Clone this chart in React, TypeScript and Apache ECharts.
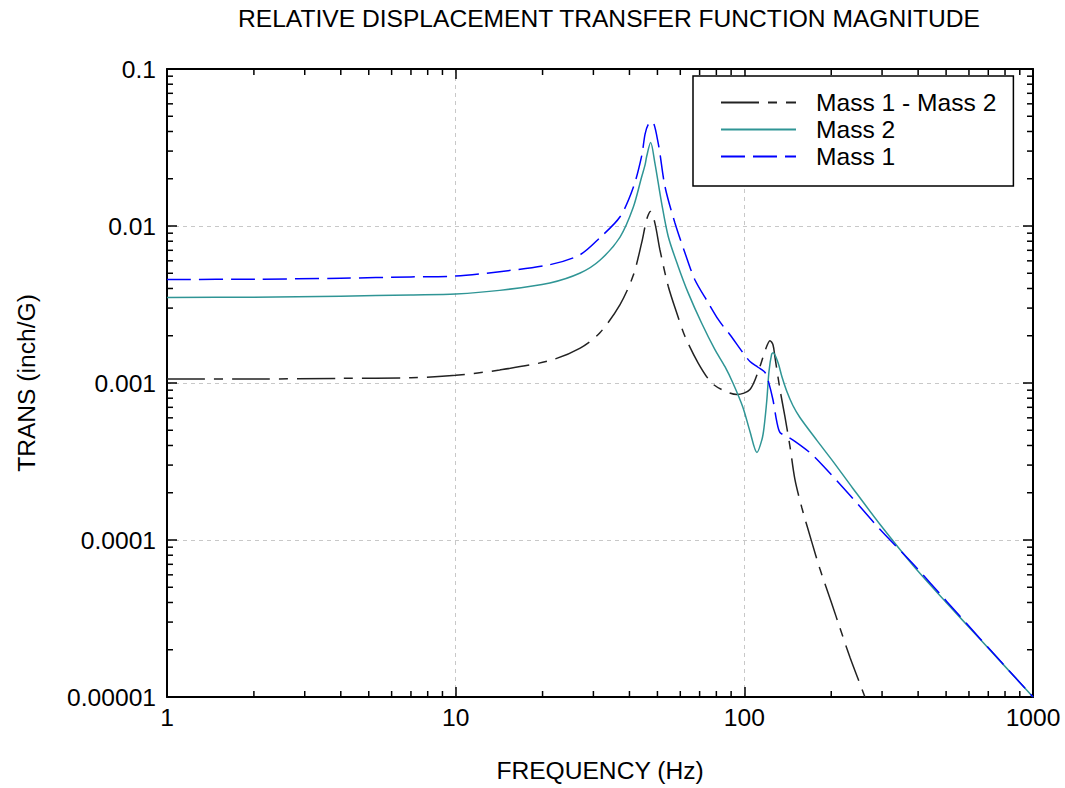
import React, { useEffect, useRef } from "react";
import * as echarts from "echarts";

const TITLE = "RELATIVE DISPLACEMENT TRANSFER FUNCTION MAGNITUDE";
const X_NAME = "FREQUENCY (Hz)";
const Y_NAME = "TRANS (inch/G)";
const xTickLabels = ["1", "10", "100", "1000"];
const yTickLabels = ["0.00001", "0.0001", "0.001", "0.01", "0.1"];
const xMinorTicks = [2, 3, 4, 5, 6, 7, 8, 9, 20, 30, 40, 50, 60, 70, 80, 90, 200, 300, 400, 500, 600, 700, 800, 900];
const yMinorTicks = [
  0.00002, 0.00003, 0.00004, 0.00005, 0.00006, 0.00007, 0.00008, 0.00009,
  0.0002, 0.0003, 0.0004, 0.0005, 0.0006, 0.0007, 0.0008, 0.0009,
  0.002, 0.003, 0.004, 0.005, 0.006, 0.007, 0.008, 0.009,
  0.02, 0.03, 0.04, 0.05, 0.06, 0.07, 0.08, 0.09,
];
const X_MIN = 1, X_MAX = 1000, Y_MIN = 0.00001, Y_MAX = 0.1;

const seriesNames = ["Mass 1 - Mass 2", "Mass 2", "Mass 1"];

// Mass 1 - Mass 2 (relative)
const relData: number[][] = [
  [1, 0.00106], [2, 0.00106], [4, 0.00107], [7, 0.00108], [10, 0.00112], [14.2, 0.00121],
  [21.2, 0.00139], [27, 0.00167], [31.6, 0.00209], [37.1, 0.00316], [41.2, 0.00483],
  [44.1, 0.00783], [45.3, 0.00993], [46.2, 0.01146], [47.3, 0.01238], [49.0, 0.01044],
  [51.0, 0.00706], [54.5, 0.00413], [58.3, 0.0028], [62.3, 0.00198], [69.2, 0.00134],
  [77.0, 0.001003], [85.7, 0.000887], [94.3, 0.000845], [104.6, 0.000909], [113.2, 0.00127],
  [117.8, 0.00159], [122.7, 0.00186], [125.6, 0.00176], [127.6, 0.00147], [132.9, 0.000909],
  [138.2, 0.000612], [143.9, 0.000395], [149.7, 0.000243], [158.3, 0.00016], [171.5, 0.0000962],
  [182.7, 0.0000655], [201.2, 0.000039], [214.4, 0.0000275], [232.2, 0.0000179],
  [247.5, 0.0000131], [261.7, 0.00001],
];

// Mass 2
const mass2Data: number[][] = [
  [1, 0.00351], [2, 0.00352], [4, 0.00357], [7, 0.00364], [10, 0.00369], [14.2, 0.00389],
  [21.2, 0.00434], [27, 0.00502], [31.6, 0.00605], [37.1, 0.0085], [41.2, 0.0131],
  [44.1, 0.0206], [45.3, 0.0245], [45.9, 0.0278], [47.35, 0.034], [49.0, 0.02514],
  [51.7, 0.014], [54.5, 0.00858], [59.0, 0.00553], [63.9, 0.00375], [71.1, 0.00241],
  [79.1, 0.00163], [85.7, 0.00127], [91.3, 0.001], [98.9, 0.000699], [104.6, 0.000491],
  [110.6, 0.000361], [115.1, 0.000437], [117.0, 0.00052], [119.7, 0.000785], [121.7, 0.00118],
  [124.3, 0.00152], [125.9, 0.00156], [130.8, 0.00135], [134.9, 0.0011], [140.4, 0.000883],
  [147.3, 0.000719], [155.8, 0.000603], [178.4, 0.000431], [202.8, 0.000317], [237.8, 0.000213],
  [294.9, 0.000126], [383.7, 0.0000691], [503.3, 0.0000396], [654.8, 0.0000234], [1000, 0.00001],
];

// Mass 1
const mass1Data: number[][] = [
  [1, 0.00457], [2, 0.00458], [4, 0.00465], [7, 0.00474], [10, 0.0048], [14.2, 0.00512],
  [21.2, 0.00567], [27, 0.00657], [31.6, 0.00842], [37.1, 0.01145], [41.2, 0.0175],
  [44.1, 0.028], [45.3, 0.0385], [46.4, 0.044], [47.9, 0.0463], [50.3, 0.0337],
  [53.1, 0.01784], [57.5, 0.01044], [62.3, 0.00673], [67.4, 0.00455], [75, 0.00324],
  [81.2, 0.00254], [85.7, 0.00222], [89.2, 0.00203], [98.9, 0.00156], [104.6, 0.00137],
  [111.5, 0.00126], [117.8, 0.00117], [120.7, 0.00105], [125.6, 0.000785], [129.7, 0.000561],
  [132.9, 0.000484], [140.4, 0.000457], [149.7, 0.000425], [168.7, 0.00036], [187.7, 0.000296],
  [232.2, 0.000193], [294.9, 0.000117], [383.7, 0.0000705], [503.3, 0.0000405],
  [654.8, 0.0000236], [1000, 0.00001],
];

const FONT = "'Liberation Sans', Arial, Helvetica, sans-serif";
const FS = 24.6;

export default function App() {
  const ref = useRef<HTMLDivElement>(null);
  useEffect(() => {
    if (!ref.current) return;
    const chart = echarts.init(ref.current, undefined, { renderer: "svg" });
    const axisLine = { show: true, lineStyle: { color: "#000", width: 2 } };
    const tickStyle = { show: true, inside: true, length: 10, lineStyle: { color: "#000", width: 1.5 } };
    const option: any = {
      animation: false,
      backgroundColor: "#fff",
      textStyle: { fontFamily: FONT },
      title: {
        text: TITLE,
        left: 604,
        textAlign: "center",
        top: 1,
        textStyle: { fontFamily: FONT, fontSize: FS, fontWeight: "normal", color: "#000" },
      },
      grid: { left: 167, right: 32, top: 69, bottom: 90, containLabel: false },
      legend: {
        data: seriesNames,
        orient: "vertical",
        left: 693,
        top: 76,
        padding: [14, 17, 17, 27],
        itemGap: 2,
        itemWidth: 75,
        itemHeight: 14,
        backgroundColor: "#fff",
        borderColor: "#000",
        borderWidth: 1.5,
        itemStyle: { opacity: 0 },
        textStyle: { fontFamily: FONT, fontSize: FS, color: "#000", padding: [0, 0, 0, 15] },
      },
      xAxis: [
        {
          type: "log",
          logBase: 10,
          min: X_MIN,
          max: X_MAX,
          position: "bottom",
          name: X_NAME,
          nameLocation: "middle",
          nameGap: 61,
          nameTextStyle: { fontFamily: FONT, fontSize: FS, color: "#000" },
          axisLine,
          axisTick: tickStyle,
          axisLabel: {
            fontFamily: FONT,
            fontSize: FS,
            color: "#000",
            margin: 8,
            formatter: (v: number) => xTickLabels[Math.round(Math.log10(v))] ?? "",
          },
          splitLine: { show: true, lineStyle: { color: "#c8c8c8", type: [4, 4], width: 1 } },
          minorTick: { show: false },
        },
        {
          type: "log",
          logBase: 10,
          min: X_MIN,
          max: X_MAX,
          position: "top",
          axisLine,
          axisTick: tickStyle,
          axisLabel: { show: false },
          splitLine: { show: false },
        },
      ],
      yAxis: [
        {
          type: "log",
          logBase: 10,
          min: Y_MIN,
          max: Y_MAX,
          position: "left",
          name: Y_NAME,
          nameLocation: "middle",
          nameGap: 128,
          nameRotate: 90,
          nameTextStyle: { fontFamily: FONT, fontSize: FS, color: "#000" },
          axisLine,
          axisTick: tickStyle,
          axisLabel: {
            fontFamily: FONT,
            fontSize: FS,
            color: "#000",
            margin: 11,
            formatter: (v: number) => yTickLabels[Math.round(Math.log10(v)) + 5] ?? "",
          },
          splitLine: { show: true, lineStyle: { color: "#c8c8c8", type: [4, 4], width: 1 } },
        },
        {
          type: "log",
          logBase: 10,
          min: Y_MIN,
          max: Y_MAX,
          position: "right",
          axisLine,
          axisTick: tickStyle,
          axisLabel: { show: false },
          splitLine: { show: false },
        },
      ],
      series: [
        {
          type: "custom",
          name: "xminor",
          silent: true,
          clip: false,
          xAxisIndex: 0,
          yAxisIndex: 0,
          data: xMinorTicks.map((v) => [v, Y_MIN]),
          renderItem: (_p: any, api: any) => {
            const v = api.value(0);
            const b = api.coord([v, Y_MIN]);
            const t = api.coord([v, Y_MAX]);
            const st = { stroke: "#000", lineWidth: 1.5 };
            return {
              type: "group",
              children: [
                { type: "line", shape: { x1: b[0], y1: b[1], x2: b[0], y2: b[1] - 6 }, style: st },
                { type: "line", shape: { x1: t[0], y1: t[1], x2: t[0], y2: t[1] + 6 }, style: st },
              ],
            };
          },
        },
        {
          type: "custom",
          name: "yminor",
          silent: true,
          clip: false,
          xAxisIndex: 0,
          yAxisIndex: 0,
          data: yMinorTicks.map((v) => [X_MIN, v]),
          renderItem: (_p: any, api: any) => {
            const v = api.value(1);
            const l = api.coord([X_MIN, v]);
            const r = api.coord([X_MAX, v]);
            const st = { stroke: "#000", lineWidth: 1.5 };
            return {
              type: "group",
              children: [
                { type: "line", shape: { x1: l[0], y1: l[1], x2: l[0] + 6, y2: l[1] }, style: st },
                { type: "line", shape: { x1: r[0], y1: r[1], x2: r[0] - 6, y2: r[1] }, style: st },
              ],
            };
          },
        },
        {
          type: "line",
          name: seriesNames[0],
          data: relData,
          showSymbol: false,
          symbol: "none",
          smooth: 0.3,
          lineStyle: { color: "#222", width: 1.5, type: [38, 9, 9, 9] },
          itemStyle: { color: "#222" },
        },
        {
          type: "line",
          name: seriesNames[1],
          data: mass2Data,
          showSymbol: false,
          symbol: "none",
          smooth: 0.3,
          lineStyle: { color: "#2f9595", width: 1.5, type: "solid" },
          itemStyle: { color: "#2f9595" },
        },
        {
          type: "line",
          name: seriesNames[2],
          data: mass1Data,
          showSymbol: false,
          symbol: "none",
          smooth: 0.3,
          lineStyle: { color: "#0000ff", width: 1.5, type: [24, 8] },
          itemStyle: { color: "#0000ff" },
        },
      ],
    };
    chart.setOption(option);
    return () => chart.dispose();
  }, []);
  return (
    <div
      ref={ref}
      style={{ position: "absolute", left: 0, top: 0, width: 1065, height: 788, background: "#fff" }}
    />
  );
}
